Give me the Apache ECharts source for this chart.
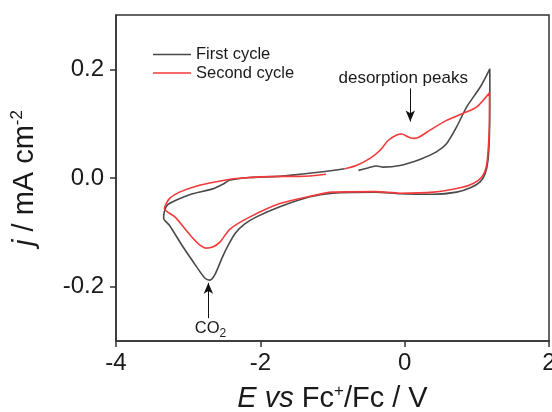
<!DOCTYPE html>
<html>
<head>
<meta charset="utf-8">
<script src="https://cdn.jsdelivr.net/npm/echarts@6/dist/echarts.min.js"></script>
<style>html,body{margin:0;padding:0;background:#fff}#c{width:552px;height:412px}</style>
</head>
<body>
<div id="c"></div>
<script>
// Potential E (V vs Fc+/Fc), current density j (mA cm^-2)
const firstCycle = [
  [-0.64,0.014],[-0.50,0.019],[-0.39,0.022],[-0.30,0.020],[-0.065,0.023],[0.21,0.034],[0.44,0.048],
  [0.58,0.063],[0.72,0.094],[0.86,0.131],[1.05,0.168],[1.18,0.201],
  [1.18,0.162],[1.175,0.082],[1.155,0.033],[1.115,0.008],[1.045,-0.007],[0.91,-0.018],[0.72,-0.026],
  [0.40,-0.030],[-0.065,-0.029],[-0.40,-0.026],[-1.0,-0.028],[-1.325,-0.035],[-1.73,-0.053],
  [-2.06,-0.072],[-2.22,-0.085],[-2.35,-0.102],[-2.45,-0.125],[-2.53,-0.147],[-2.63,-0.178],
  [-2.70,-0.188],[-2.77,-0.184],[-2.88,-0.164],[-3.07,-0.127],[-3.26,-0.087],[-3.34,-0.074],
  [-3.33,-0.062],[-3.29,-0.050],[-3.17,-0.041],[-2.94,-0.029],[-2.66,-0.020],[-2.50,-0.010],
  [-2.43,-0.004],[-2.15,0.001],[-1.73,0.003],[-1.45,0.007],[-1.10,0.012],[-0.83,0.017]
];
const secondCycle = [
  [-0.83,0.017],[-0.67,0.023],[-0.48,0.036],[-0.34,0.051],[-0.23,0.069],[-0.11,0.079],[-0.04,0.081],
  [0.03,0.077],[0.08,0.074],[0.14,0.073],[0.21,0.076],[0.35,0.088],[0.58,0.106],[0.81,0.119],
  [1.0,0.131],[1.175,0.157],
  [1.175,0.112],[1.16,0.057],[1.13,0.020],[1.07,0.002],[0.95,-0.010],[0.77,-0.018],[0.40,-0.026],
  [-0.065,-0.028],[-0.40,-0.025],[-1.0,-0.026],[-1.325,-0.034],[-1.73,-0.047],[-2.15,-0.072],
  [-2.42,-0.094],[-2.56,-0.118],[-2.66,-0.127],[-2.75,-0.129],[-2.85,-0.122],[-2.94,-0.110],
  [-3.03,-0.096],[-3.18,-0.072],[-3.33,-0.056],
  [-3.26,-0.038],[-3.12,-0.026],[-2.89,-0.015],[-2.61,-0.007],[-2.33,-0.001],[-1.73,0.003],
  [-1.45,0.003],[-1.09,0.007]
];
const seriesNames = ['First cycle', 'Second cycle'];
const xTicks = [-4, -2, 0, 2];
const yTicks = [-0.2, 0.0, 0.2];
// annotation arrows: [E, jStart, jEnd]
const desorptionArrow = [0.078, 0.165, 0.104];
const co2Arrow = [-2.72, -0.258, -0.193];

const FONT = 'Arial, "Liberation Sans", sans-serif';
const chart = echarts.init(document.getElementById('c'), null, {renderer: 'canvas'});
chart.setOption({
  animation: false,
  textStyle: {fontFamily: FONT},
  grid: {left: 116, right: 3, top: 15, bottom: 71, show: true, borderColor: '#333', borderWidth: 1.5,
    backgroundColor: 'transparent', containLabel: false, outerBoundsMode: 'none'},
  legend: {
    data: seriesNames, orient: 'vertical', left: 153, top: 46, padding: 0, icon: 'rect',
    itemWidth: 38, itemHeight: 1.5, itemGap: 1.5,
    textStyle: {fontSize: 16.5, color: '#1a1a1a', fontFamily: FONT}
  },
  xAxis: {
    type: 'value', min: -4, max: 2, interval: 2,
    axisLine: {show: true, onZero: false, lineStyle: {color: '#333', width: 1.5}},
    axisTick: {show: true, inside: false, length: 6, lineStyle: {color: '#333', width: 1.5}},
    splitLine: {show: false},
    axisLabel: {fontSize: 24, color: '#1a1a1a', margin: 10, fontFamily: FONT,
      customValues: xTicks, formatter: v => String(v)},
    name: '{i|E vs} Fc{sup|+}/Fc / V', nameLocation: 'middle', nameGap: 42,
    nameTextStyle: {fontSize: 29, color: '#1a1a1a', fontFamily: FONT,
      rich: {i: {fontSize: 29, fontStyle: 'italic', fontFamily: FONT, color: '#1a1a1a'},
             sup: {fontSize: 17, verticalAlign: 'top', fontFamily: FONT, color: '#1a1a1a', padding: [0,0,14,0]}}}
  },
  yAxis: {
    type: 'value', min: -0.3, max: 0.3, interval: 0.1,
    axisLine: {show: true, onZero: false, lineStyle: {color: '#333', width: 1.5}},
    axisTick: {show: true, inside: false, length: 6, customValues: yTicks, lineStyle: {color: '#333', width: 1.5}},
    splitLine: {show: false},
    axisLabel: {fontSize: 24, color: '#1a1a1a', margin: 12, fontFamily: FONT,
      customValues: yTicks, formatter: v => v.toFixed(1)},
    name: '{i|j} / mA cm{sup|-2}', nameLocation: 'middle', nameGap: 76, nameRotate: 90,
    nameTextStyle: {fontSize: 29, color: '#1a1a1a', fontFamily: FONT,
      rich: {i: {fontSize: 29, fontStyle: 'italic', fontFamily: FONT, color: '#1a1a1a'},
             sup: {fontSize: 17, verticalAlign: 'top', fontFamily: FONT, color: '#1a1a1a', padding: [0,0,14,0]}}}
  },
  series: [
    {
      name: seriesNames[0], type: 'line', data: firstCycle, showSymbol: false, symbol: 'none',
      smooth: 0.25, color: '#4a4a4a', lineStyle: {width: 1.6, color: '#4a4a4a'},
      markLine: {
        silent: true, symbol: ['none', 'arrow'], symbolSize: [7, 11], animation: false,
        lineStyle: {color: '#111', width: 1, type: 'solid'}, label: {show: false},
        data: [
          [{coord: [desorptionArrow[0], desorptionArrow[1]]}, {coord: [desorptionArrow[0], desorptionArrow[2]]}],
          [{coord: [co2Arrow[0], co2Arrow[1]]}, {coord: [co2Arrow[0], co2Arrow[2]]}]
        ]
      },
      markPoint: {
        silent: true, symbol: 'circle', symbolSize: 1, itemStyle: {color: 'rgba(0,0,0,0)'},
        label: {show: true, position: 'inside', color: '#1a1a1a', fontSize: 17, fontFamily: FONT,
          rich: {sub: {fontSize: 12, verticalAlign: 'bottom', padding: [10,0,0,0], fontFamily: FONT, color: '#1a1a1a'},
                 n: {fontSize: 16.5, fontFamily: FONT, color: '#1a1a1a'}}},
        data: [
          {coord: [-0.02, 0.1835], value: 0, label: {formatter: 'desorption peaks'}},
          {coord: [-2.69, -0.277], value: 0, label: {formatter: '{n|CO}{sub|2}'}}
        ]
      }
    },
    {
      name: seriesNames[1], type: 'line', data: secondCycle, showSymbol: false, symbol: 'none',
      smooth: 0.25, color: '#f23a3a', lineStyle: {width: 1.6, color: '#f23a3a'}
    }
  ]
});
</script>
</body>
</html>
